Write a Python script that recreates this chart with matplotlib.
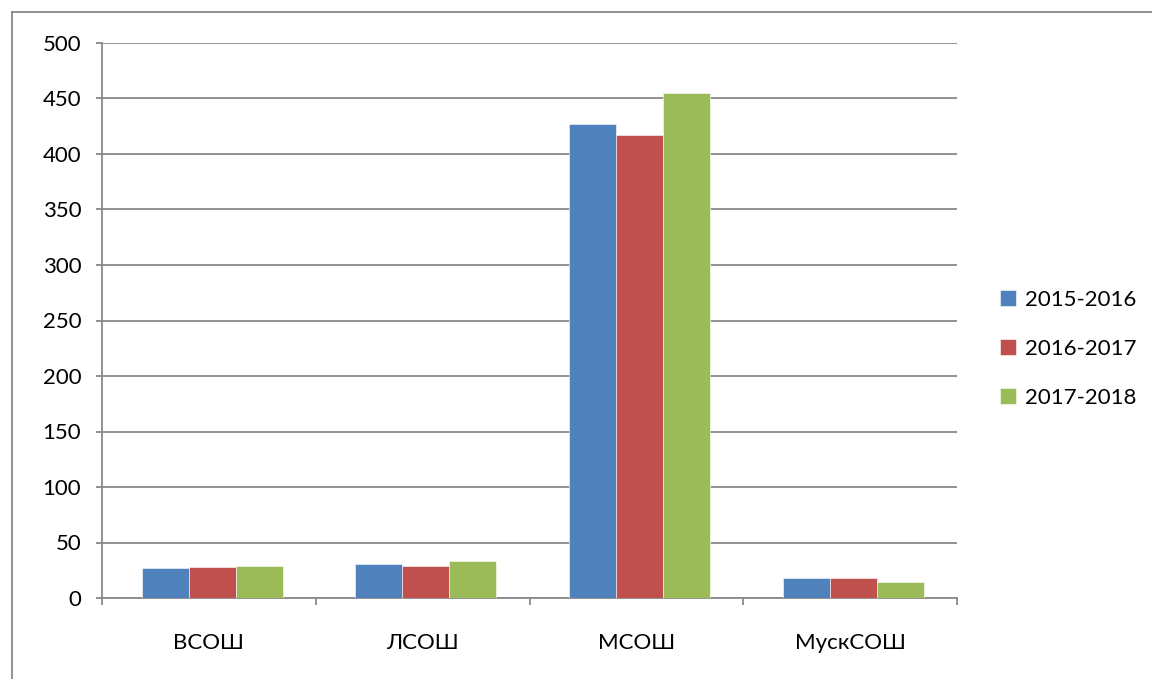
import matplotlib.pyplot as plt
import numpy as np
from matplotlib.lines import Line2D

# data
schools = ['ВСОШ', 'ЛСОШ', 'МСОШ', 'МускСОШ']
years = ['2015-2016', '2016-2017', '2017-2018']
v2015 = [27, 31, 427, 18]
v2016 = [28, 29, 417, 18]
v2017 = [29, 33, 455, 14]
colors = ['#4F81BD', '#C0504D', '#9BBB59']

plt.rcParams['font.family'] = ['Lato', 'DejaVu Sans']
gridc = '#898989'

fig = plt.figure(figsize=(11.52, 6.79), dpi=100)
ax = fig.add_axes([102/1152, 1 - 598/679, (957 - 102)/1152, (598 - 43)/679])

x = np.arange(len(schools)) + 0.5
w = 0.22
series = [v2015, v2016, v2017]
for i, (vals, c) in enumerate(zip(series, colors)):
    ax.bar(x + (i - 1)*w + 0.015, vals, w, color=c, edgecolor='white', linewidth=0.4,
           label=years[i], zorder=3)

ax.set_xlim(0, 4)
ax.set_ylim(0, 500)
ax.set_yticks(np.arange(0, 501, 50))
ax.yaxis.grid(True, color=gridc, linewidth=1.3, zorder=0)
ax.set_xticks(x)
ax.set_xticklabels(schools)
ax.set_xticks(np.arange(0, 5), minor=True)
ax.tick_params(axis='x', which='major', length=0, pad=25, labelsize=16)
ax.tick_params(axis='x', which='minor', length=5, width=1.3, color=gridc, direction='out')
ax.tick_params(axis='y', length=4, width=1.3, color=gridc, pad=11, labelsize=16)

for s in ['top', 'right']:
    ax.spines[s].set_visible(False)
for s in ['left', 'bottom']:
    ax.spines[s].set_color(gridc)
    ax.spines[s].set_linewidth(1.3)

# legend on the right
leg = ax.legend(loc='center left', bbox_to_anchor=(1.050, 0.449), frameon=False,
                fontsize=16, handlelength=0.75, handleheight=0.75, borderpad=0,
                borderaxespad=0, handletextpad=0.4, labelspacing=1.3)

# outer chart border (left and top only visible)
fig.add_artist(Line2D([12/1152, 12/1152], [0, 1 - 12/679], color=gridc, lw=1.3))
fig.add_artist(Line2D([12/1152, 1], [1 - 12/679, 1 - 12/679], color=gridc, lw=1.3))

fig.savefig('out.png', dpi=100)
